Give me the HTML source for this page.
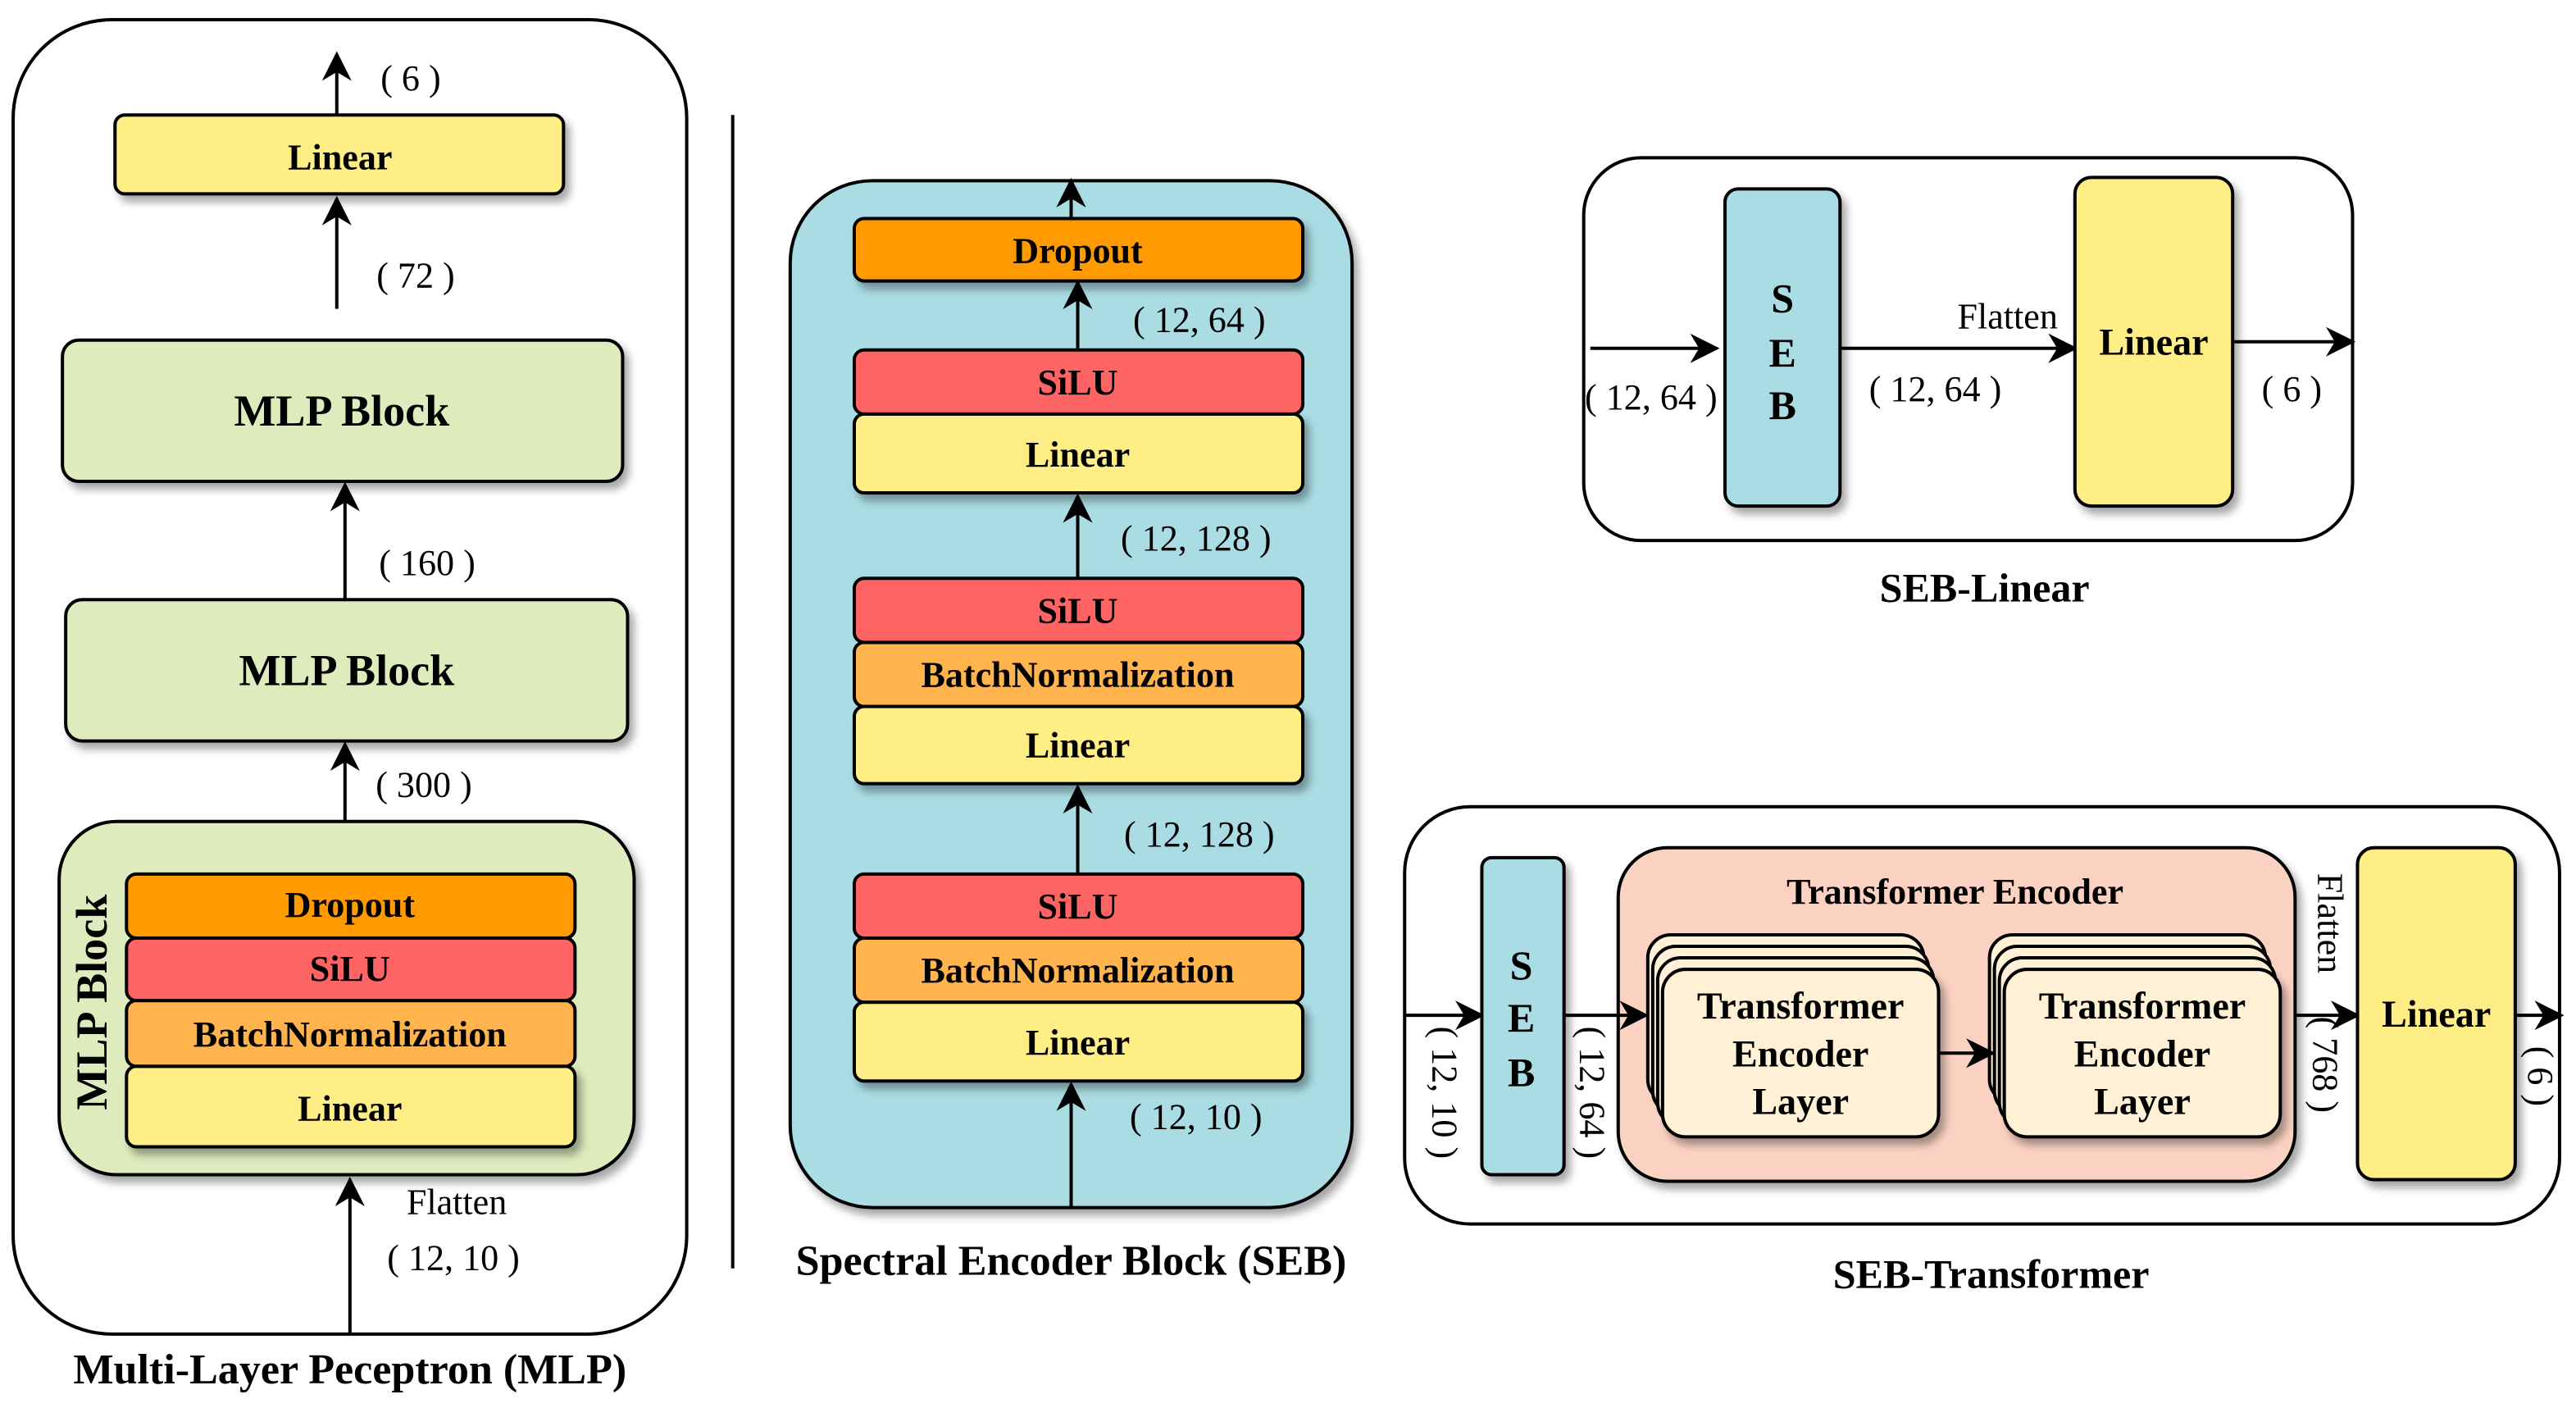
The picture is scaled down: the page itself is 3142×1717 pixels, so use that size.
<!DOCTYPE html>
<html><head><meta charset="utf-8"><style>
html,body{margin:0;padding:0;background:#fff;}
svg{display:block;}
text{font-family:"Liberation Serif","DejaVu Serif",serif;}
</style></head><body>
<svg width="3142" height="1717" viewBox="0 0 1568 857" preserveAspectRatio="none" xmlns="http://www.w3.org/2000/svg" font-family="Liberation Serif, serif">
<defs>
<filter id="sh" x="-20%" y="-20%" width="150%" height="160%"><feDropShadow dx="3" dy="4" stdDeviation="2.5" flood-color="#000" flood-opacity="0.35"/></filter>
<marker id="ar2" viewBox="0 0 10 10" markerWidth="18" markerHeight="18" refX="9" refY="5" orient="auto" markerUnits="userSpaceOnUse"><path d="M0,0 L10,5 L0,10 L3,5 z" fill="#000"/></marker>
</defs>
<g stroke="#000" stroke-width="2">
<rect x="8" y="12" width="410" height="800" rx="60" fill="#fff"/>
<line x1="205" y1="70" x2="205" y2="33" marker-end="url(#ar2)"/>
<rect x="70" y="70" width="273" height="48" rx="6" fill="#FFED85" filter="url(#sh)"/>
<line x1="205" y1="188" x2="205" y2="121" marker-end="url(#ar2)"/>
<rect x="38" y="207" width="341" height="86" rx="10" fill="#DDEBBD" filter="url(#sh)"/>
<line x1="210" y1="365" x2="210" y2="295" marker-end="url(#ar2)"/>
<rect x="40" y="365" width="342" height="86" rx="10" fill="#DDEBBD" filter="url(#sh)"/>
<line x1="210" y1="500" x2="210" y2="453" marker-end="url(#ar2)"/>
<rect x="36" y="500" width="350" height="215" rx="35" fill="#DDEBBD" filter="url(#sh)"/>
<rect x="77" y="649" width="273" height="49" rx="6" fill="#FFED85" filter="url(#sh)"/>
<rect x="77" y="609" width="273" height="40" rx="6" fill="#FFB44D"/>
<rect x="77" y="571" width="273" height="38" rx="6" fill="#FF6464"/>
<rect x="77" y="532" width="273" height="39" rx="6" fill="#FF9A00"/>
<line x1="213" y1="812" x2="213" y2="718" marker-end="url(#ar2)"/>
<line x1="446" y1="70" x2="446" y2="772"/>
<rect x="481" y="110" width="342" height="625" rx="50" fill="#A9DCE3" filter="url(#sh)"/>
<line x1="652" y1="132" x2="652" y2="110" marker-end="url(#ar2)"/>
<rect x="520" y="133" width="273" height="38" rx="6" fill="#FF9A00" filter="url(#sh)"/>
<line x1="656" y1="212" x2="656" y2="172" marker-end="url(#ar2)"/>
<rect x="520" y="252" width="273" height="48" rx="6" fill="#FFED85" filter="url(#sh)"/>
<rect x="520" y="213" width="273" height="39" rx="6" fill="#FF6464"/>
<line x1="656" y1="352" x2="656" y2="302" marker-end="url(#ar2)"/>
<rect x="520" y="430" width="273" height="47" rx="6" fill="#FFED85" filter="url(#sh)"/>
<rect x="520" y="391" width="273" height="39" rx="6" fill="#FFB44D"/>
<rect x="520" y="352" width="273" height="39" rx="6" fill="#FF6464"/>
<line x1="656" y1="532" x2="656" y2="479" marker-end="url(#ar2)"/>
<rect x="520" y="610" width="273" height="48" rx="6" fill="#FFED85" filter="url(#sh)"/>
<rect x="520" y="571" width="273" height="39" rx="6" fill="#FFB44D"/>
<rect x="520" y="532" width="273" height="39" rx="6" fill="#FF6464"/>
<line x1="652" y1="735" x2="652" y2="660" marker-end="url(#ar2)"/>
<rect x="964" y="96" width="468" height="233" rx="35" fill="#fff"/>
<line x1="968" y1="212" x2="1045" y2="212" marker-end="url(#ar2)"/>
<rect x="1050" y="115" width="70" height="193" rx="8" fill="#A9DCE3" filter="url(#sh)"/>
<line x1="1120" y1="212" x2="1263" y2="212" marker-end="url(#ar2)"/>
<rect x="1263" y="108" width="96" height="200" rx="10" fill="#FFED85" filter="url(#sh)"/>
<line x1="1360" y1="208" x2="1432" y2="208" marker-end="url(#ar2)"/>
<rect x="855" y="491" width="703" height="254" rx="40" fill="#fff"/>
<line x1="855" y1="618" x2="902" y2="618" marker-end="url(#ar2)"/>
<rect x="902" y="522" width="50" height="193" rx="6" fill="#A9DCE3" filter="url(#sh)"/>
<rect x="985" y="516" width="412" height="203" rx="30" fill="#FBD2C2" filter="url(#sh)"/>
<line x1="952" y1="618" x2="1002" y2="618" marker-end="url(#ar2)"/>
<g fill="#FFF0D6">
<rect x="1003" y="569" width="168" height="102" rx="14"/>
<rect x="1006" y="576" width="168" height="102" rx="14"/>
<rect x="1009" y="583" width="168" height="102" rx="14"/>
<rect x="1012" y="590" width="168" height="102" rx="14" filter="url(#sh)"/>
<rect x="1211" y="569" width="168" height="102" rx="14"/>
<rect x="1214" y="576" width="168" height="102" rx="14"/>
<rect x="1217" y="583" width="168" height="102" rx="14"/>
<rect x="1220" y="590" width="168" height="102" rx="14" filter="url(#sh)"/>
</g>
<line x1="1180" y1="641" x2="1213" y2="641" marker-end="url(#ar2)"/>
<line x1="1397" y1="618" x2="1435" y2="618" marker-end="url(#ar2)"/>
<rect x="1435" y="516" width="96" height="202" rx="10" fill="#FFED85" filter="url(#sh)"/>
<line x1="1531" y1="618" x2="1559" y2="618" marker-end="url(#ar2)"/>
</g>
<g font-size="22" text-anchor="middle" fill="#000">
<g font-weight="bold">
<text x="207" y="103">Linear</text>
<text x="208" y="259" font-size="27">MLP Block</text>
<text x="211" y="417" font-size="27">MLP Block</text>
<text x="213" y="558">Dropout</text>
<text x="213" y="597">SiLU</text>
<text x="213" y="637">BatchNormalization</text>
<text x="213" y="682">Linear</text>
<text transform="translate(65,610) rotate(-90)" font-size="27">MLP Block</text>
<text x="213" y="842" font-size="26">Multi-Layer Peceptron (MLP)</text>
<text x="656" y="160">Dropout</text>
<text x="656" y="240">SiLU</text>
<text x="656" y="284">Linear</text>
<text x="656" y="379">SiLU</text>
<text x="656" y="418">BatchNormalization</text>
<text x="656" y="461">Linear</text>
<text x="656" y="559">SiLU</text>
<text x="656" y="598">BatchNormalization</text>
<text x="656" y="642">Linear</text>
<text x="652" y="776" font-size="26">Spectral Encoder Block (SEB)</text>
<text x="1085" y="190" font-size="25">S</text>
<text x="1085" y="223" font-size="25">E</text>
<text x="1085" y="255" font-size="25">B</text>
<text x="1311" y="216" font-size="23">Linear</text>
<text x="1208" y="366" font-size="25">SEB-Linear</text>
<text x="926" y="596" font-size="25">S</text>
<text x="926" y="628" font-size="25">E</text>
<text x="926" y="661" font-size="25">B</text>
<text x="1190" y="550">Transformer Encoder</text>
<text x="1096" y="620" font-size="23">Transformer</text>
<text x="1096" y="649" font-size="23">Encoder</text>
<text x="1096" y="678" font-size="23">Layer</text>
<text x="1304" y="620" font-size="23">Transformer</text>
<text x="1304" y="649" font-size="23">Encoder</text>
<text x="1304" y="678" font-size="23">Layer</text>
<text x="1483" y="625" font-size="23">Linear</text>
<text x="1212" y="784" font-size="25">SEB-Transformer</text>
</g>
<text x="250" y="55">( 6 )</text>
<text x="253" y="175">( 72 )</text>
<text x="260" y="350">( 160 )</text>
<text x="258" y="485">( 300 )</text>
<text x="278" y="739">Flatten</text>
<text x="276" y="773">( 12, 10 )</text>
<text x="730" y="202">( 12, 64 )</text>
<text x="728" y="335">( 12, 128 )</text>
<text x="730" y="515">( 12, 128 )</text>
<text x="728" y="687">( 12, 10 )</text>
<text x="1005" y="249">( 12, 64 )</text>
<text x="1222" y="200">Flatten</text>
<text x="1178" y="244">( 12, 64 )</text>
<text x="1395" y="244">( 6 )</text>
<text transform="translate(872,665) rotate(90)">( 12, 10 )</text>
<text transform="translate(962,665) rotate(90)">( 12, 64 )</text>
<text transform="translate(1411,562) rotate(90)">Flatten</text>
<text transform="translate(1408,648) rotate(90)">( 768 )</text>
<text transform="translate(1539,655) rotate(90)">( 6 )</text>
</g>
</svg>
</body></html>
